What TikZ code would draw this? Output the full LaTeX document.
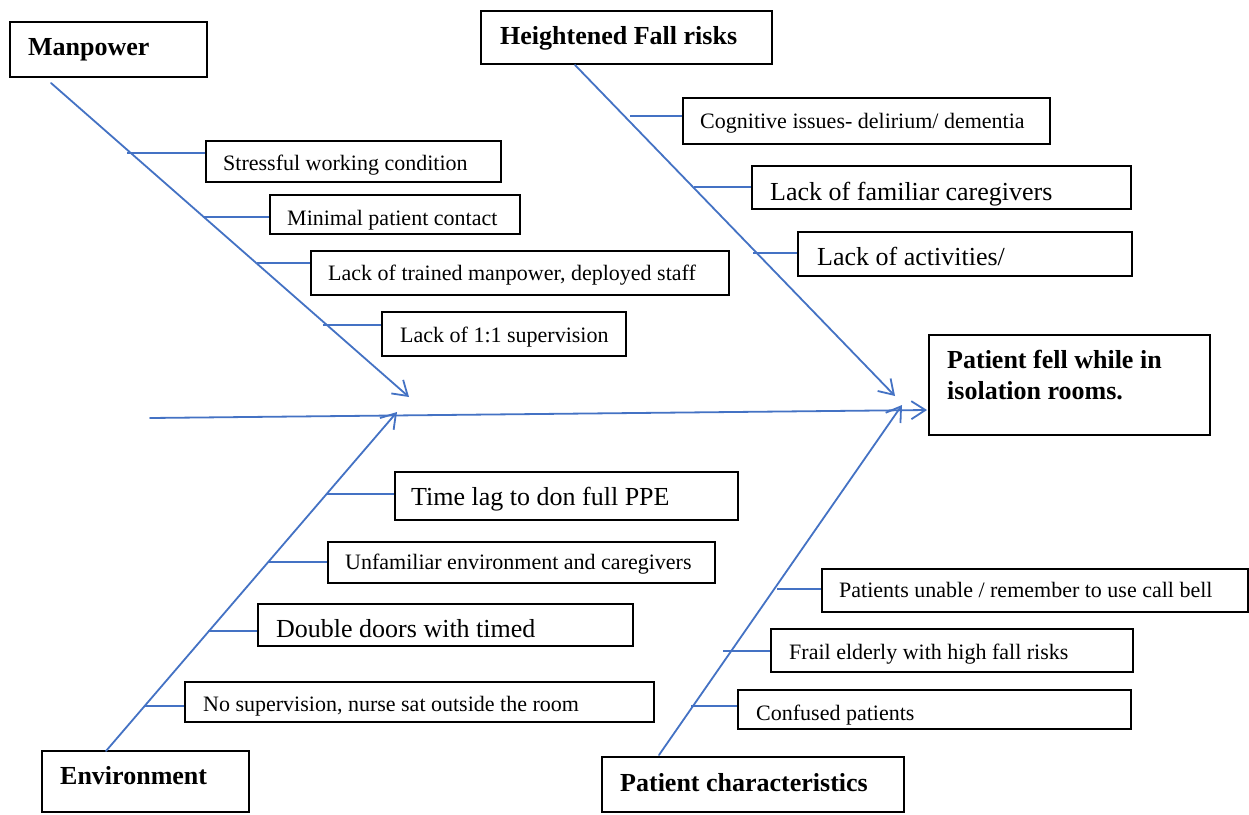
\documentclass[tikz,border=0pt]{standalone}
\usepackage{fontspec}
\setmainfont{Liberation Serif}
\usetikzlibrary{arrows.meta,fit}
\definecolor{bonecol}{HTML}{4472C4}
\newcommand\ftsmall{\fontsize{22}{26}\selectfont}
\newcommand\ftlarge{\fontsize{26}{30}\selectfont}
\newcommand\fthead{\fontsize{26}{31}\selectfont\bfseries}
\newcommand\causebox[9]{%
  \node[boxst, fit={(#2,#3) (#4,#5)}] (#1) {};
  \node[txt, font=#8] (#1-t) at (#6,#7) {#9};
}
\begin{document}
\begin{tikzpicture}[x=1pt,y=-1pt,
  boxst/.style={draw=black, line width=2pt, inner sep=0pt},
  txt/.style={anchor=base west, inner sep=0pt, text=black},
  bone/.style={draw=bonecol, line width=1.8pt, line cap=round,
    -{Straight Barb[length=14pt,width=18pt,line width=1.8pt]}},
  rib/.style={draw=bonecol, line width=1.2pt}]
\useasboundingbox (0,0) rectangle (1249,814);
\fill[white] (0,0) rectangle (1249,814);

% category boxes
\causebox{manpower}{10}{22}{207}{77}{28}{55}{\fthead}{Manpower}
\causebox{fallrisk}{481}{11}{772}{64}{500}{44}{\fthead}{Heightened Fall risks}
\causebox{environment}{42}{751}{249}{812}{60}{784}{\fthead}{Environment}
\causebox{patchar}{602}{757}{904}{812}{620}{791}{\fthead}{Patient characteristics}

% effect box
\node[boxst, fit={(929,335) (1210,435)}] (effect) {};
\node[txt, align=left, font=\fthead] (effect-t) at (947,399)
  {Patient fell while in\\isolation rooms.};

% manpower causes
\causebox{stress}{206}{141}{501}{182}{223}{170}{\ftsmall}{Stressful working condition}
\causebox{minimal}{270}{195}{520}{234}{287}{225}{\ftsmall}{Minimal patient contact}
\causebox{trained}{311}{251}{729}{295}{328}{280}{\ftsmall}{Lack of trained manpower, deployed staff}
\causebox{onetoone}{382}{312}{626}{356}{400}{342}{\ftsmall}{Lack of 1:1 supervision}

% fall risk causes
\causebox{cognitive}{683}{98}{1050}{144}{700}{128}{\ftsmall}{Cognitive issues- delirium/ dementia}
\causebox{familiar}{752}{166}{1131}{209}{770}{200}{\ftlarge}{Lack of familiar caregivers}
\causebox{activities}{798}{232}{1132}{276}{817}{265}{\ftlarge}{Lack of activities/}

% environment causes
\causebox{timelag}{395}{472}{738}{520}{411}{505}{\ftlarge}{Time lag to don full PPE}
\causebox{unfamiliar}{328}{542}{715}{583}{345}{569}{\ftsmall}{Unfamiliar environment and caregivers}
\causebox{doors}{258}{604}{633}{646}{276}{637}{\ftlarge}{Double doors with timed}
\causebox{nosup}{185}{682}{654}{722}{203}{711}{\ftsmall}{No supervision, nurse sat outside the room}

% patient characteristic causes
\causebox{callbell}{822}{569}{1248}{612}{839}{597}{\ftsmall}{Patients unable / remember to use call bell}
\causebox{frail}{771}{629}{1133}{672}{789}{659}{\ftsmall}{Frail elderly with high fall risks}
\causebox{confused}{738}{690}{1131}{729}{756}{720}{\ftsmall}{Confused patients}

% bones
\coordinate (spineS) at (150,418);
\coordinate (spineE) at (927,410);
\coordinate (mpS) at (51,83);
\coordinate (mpE) at (409,397);
\coordinate (frS) at (575,65);
\coordinate (frE) at (895,396);
\coordinate (evS) at (106,751);
\coordinate (evE) at (397,412);
\coordinate (pcS) at (659,755);
\coordinate (pcE) at (902,405);

\draw[bone] (spineS) -- (spineE);
\draw[bone] (mpS) -- (mpE);
\draw[bone] (frS) -- (frE);
\draw[bone] (evS) -- (evE);
\draw[bone] (pcS) -- (pcE);

% ribs
\coordinate (r1) at (127,153);
\coordinate (r2) at (203,217);
\coordinate (r3) at (257,263);
\coordinate (r4) at (323,325);
\draw[rib] (r1) -- (r1 -| stress.west);
\draw[rib] (r2) -- (r2 -| minimal.west);
\draw[rib] (r3) -- (r3 -| trained.west);
\draw[rib] (r4) -- (r4 -| onetoone.west);

\coordinate (r5) at (630,116);
\coordinate (r6) at (694,187);
\coordinate (r7) at (753,253);
\draw[rib] (r5) -- (r5 -| cognitive.west);
\draw[rib] (r6) -- (r6 -| familiar.west);
\draw[rib] (r7) -- (r7 -| activities.west);

\coordinate (r8) at (327,494);
\coordinate (r9) at (268,562);
\coordinate (r10) at (208,631);
\coordinate (r11) at (145,706);
\draw[rib] (r8) -- (r8 -| timelag.west);
\draw[rib] (r9) -- (r9 -| unfamiliar.west);
\draw[rib] (r10) -- (r10 -| doors.west);
\draw[rib] (r11) -- (r11 -| nosup.west);

\coordinate (r12) at (777,589);
\coordinate (r13) at (723,651);
\coordinate (r14) at (691,706);
\draw[rib] (r12) -- (r12 -| callbell.west);
\draw[rib] (r13) -- (r13 -| frail.west);
\draw[rib] (r14) -- (r14 -| confused.west);
\end{tikzpicture}
\end{document}
